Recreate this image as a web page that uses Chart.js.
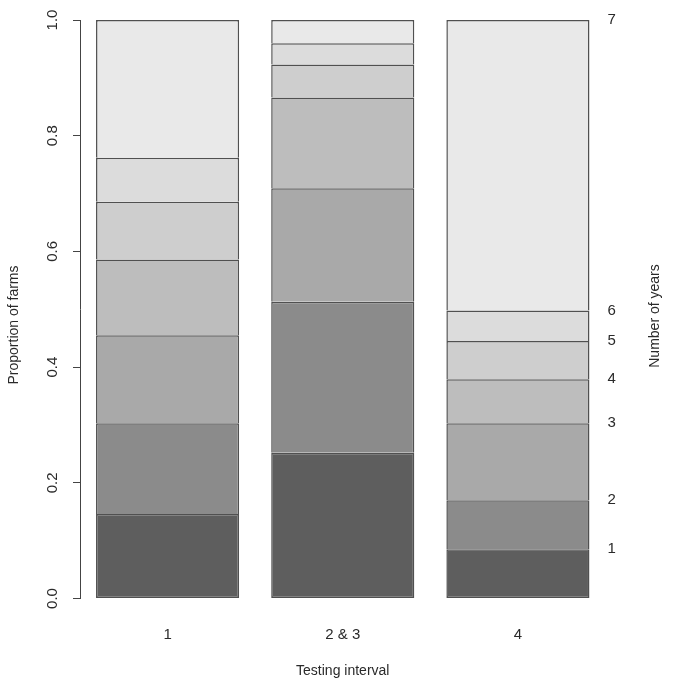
<!DOCTYPE html>
<html>
<head>
<meta charset="utf-8">
<script src="https://cdn.jsdelivr.net/npm/chart.js@4/dist/chart.umd.min.js"></script>
<style>
    body { margin: 0; background: #fff; }
    #wrap { width: 685px; height: 685px; }
</style>
</head>
<body>
<div id="wrap"><canvas id="chart"></canvas></div>
<script>
// testing intervals on the x axis
const intervals = ['1', '2 & 3', '4'];
// number of years (stack order, bottom to top)
const years = ['1', '2', '3', '4', '5', '6', '7'];

// proportion of farms per number of years, one array per testing interval
const interval1 = [0.146, 0.157, 0.152, 0.131, 0.100, 0.076, 0.238];
const interval23 = [0.252, 0.261, 0.196, 0.157, 0.057, 0.037, 0.040];
const interval4 = [0.085, 0.085, 0.133, 0.076, 0.066, 0.053, 0.502];

const greys = ['#5e5e5e', '#8b8b8b', '#a9a9a9', '#bdbdbd', '#cecece', '#dcdcdc', '#e9e9e9'];

const proportionTicks = [0, 0.2, 0.4, 0.6, 0.8, 1.0];

const byInterval = [interval1, interval23, interval4]

// right hand labels sit at the cumulative tops of the last bar
let yearTicks = []
let running = 0
interval4.forEach(v => {
    running += v
    yearTicks.push(Math.round(running * 1000) / 1000)
})

const datasets = years.map((y, i) => ({
    label: y,
    data: byInterval.map(arr => arr[i]),
    backgroundColor: greys[i],
    borderColor: '#505050',
    borderWidth: 1.5,
    borderSkipped: i === 0 ? false : 'start',
    categoryPercentage: 0.817,
    barPercentage: 1.0,
}));

const textColor = '#2a2a2a';
const fontFamily = '"Liberation Sans", Arial, Helvetica, sans-serif';

// side titles are drawn by hand so they can sit where the original had them
const sideTitles = {
    id: 'sideTitles',
    afterDraw(chart) {
        const ctx = chart.ctx;
        ctx.save();
        ctx.fillStyle = textColor;
        ctx.font = '14px ' + fontFamily;
        ctx.textAlign = 'center';
        ctx.textBaseline = 'middle';
        ctx.translate(14, 325);
        ctx.rotate(-Math.PI / 2);
        ctx.fillText('Proportion of farms', 0, 0);
        ctx.restore();

        ctx.save();
        ctx.fillStyle = textColor;
        ctx.font = '14px ' + fontFamily;
        ctx.textAlign = 'center';
        ctx.textBaseline = 'middle';
        ctx.translate(655, 316);
        ctx.rotate(-Math.PI / 2);
        ctx.fillText('Number of years', 0, 0);
        ctx.restore();
    }
};

const config = {
    type: 'bar',
    data: {
        labels: intervals,
        datasets: datasets
    },
    options: {
        responsive: true,
        maintainAspectRatio: false,
        animation: false,
        layout: {
            padding: { top: 20, left: 0, right: 0, bottom: 0 }
        },
        plugins: {
            legend: { display: false },
            tooltip: { enabled: false },
            title: { display: false }
        },
        scales: {
            x: {
                stacked: true,
                grid: { display: false, drawTicks: false },
                border: { display: false },
                ticks: {
                    color: textColor,
                    font: { size: 15, family: fontFamily },
                    padding: 27,
                    maxRotation: 0
                },
                title: {
                    display: true,
                    text: 'Testing interval',
                    color: textColor,
                    font: { size: 14, family: fontFamily },
                    padding: { top: 0, bottom: 5 }
                },
                afterFit: scale => { scale.height = 86.5 }
            },
            y: {
                stacked: true,
                min: 0,
                max: 1,
                position: 'left',
                afterBuildTicks: scale => {
                    scale.ticks = proportionTicks.map(v => ({ value: v }))
                },
                grid: {
                    drawOnChartArea: false,
                    drawTicks: true,
                    tickLength: 7,
                    color: '#444'
                },
                border: { display: true, color: '#444', width: 1 },
                ticks: {
                    color: textColor,
                    font: { size: 15, family: fontFamily },
                    minRotation: 90,
                    maxRotation: 90,
                    crossAlign: 'center',
                    padding: 10,
                    callback: v => v.toFixed(1)
                },
                afterFit: scale => { scale.width = 80 }
            },
            y2: {
                min: 0,
                max: 1,
                position: 'right',
                afterBuildTicks: scale => {
                    scale.ticks = yearTicks.map(v => ({ value: v }))
                },
                grid: { display: false, drawTicks: false },
                border: { display: false },
                ticks: {
                    color: textColor,
                    font: { size: 15, family: fontFamily },
                    padding: 2,
                    autoSkip: false,
                    callback: (value, index) => years[index]
                },
                afterFit: scale => { scale.width = 79.5 }
            }
        }
    },
    plugins: [sideTitles]
};

let myChart = new Chart(
    document.getElementById('chart'),
    config
);
</script>
</body>
</html>
